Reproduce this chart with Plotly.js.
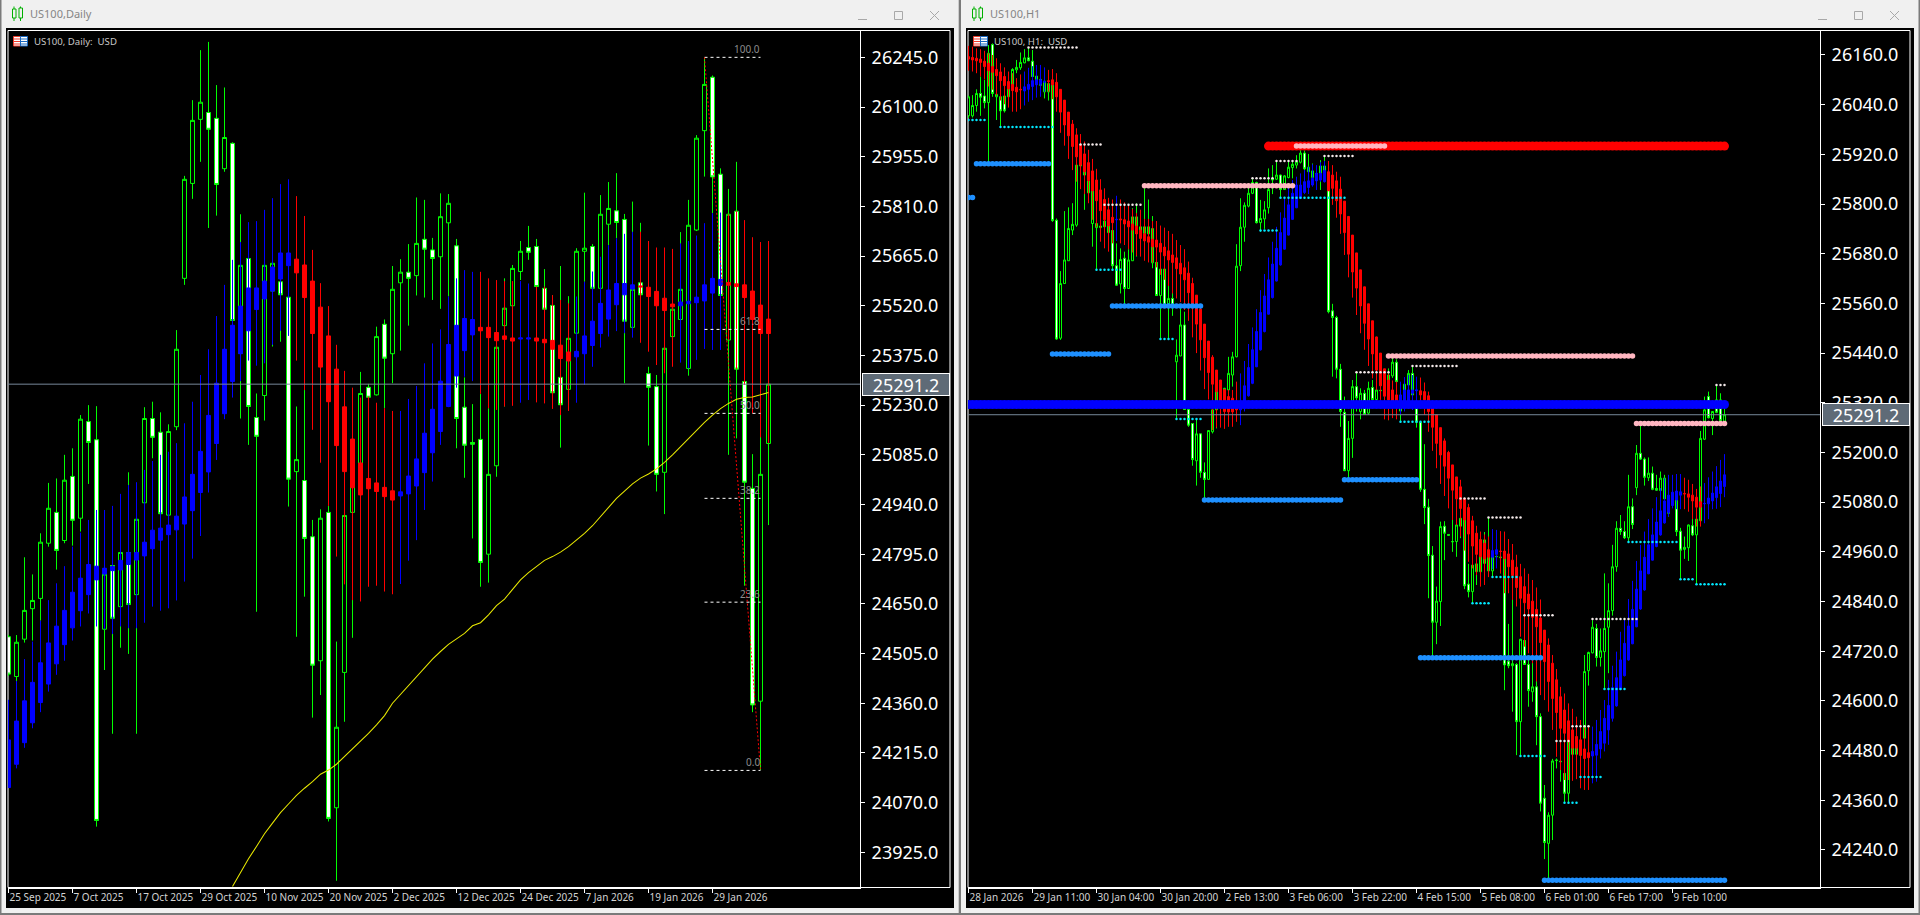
<!DOCTYPE html>
<html><head><meta charset="utf-8">
<style>html,body{margin:0;padding:0;background:#f0f0f0;overflow:hidden}#c{width:1920px;height:915px}</style>
<script src="https://cdn.plot.ly/plotly-3.0.1.min.js"></script></head><body><div id="c"></div>
<script>
const lastPrice = 25291.2;
const dailyTickLabels = ["25 Sep 2025","7 Oct 2025","17 Oct 2025","29 Oct 2025","10 Nov 2025","20 Nov 2025","2 Dec 2025","12 Dec 2025","24 Dec 2025","7 Jan 2026","19 Jan 2026","29 Jan 2026"];
const hourlyTickLabels = ["28 Jan 2026","29 Jan 11:00","30 Jan 04:00","30 Jan 20:00","2 Feb 13:00","3 Feb 06:00","3 Feb 22:00","4 Feb 15:00","5 Feb 08:00","6 Feb 01:00","6 Feb 17:00","9 Feb 10:00"];
const dailyPriceTicks = [26245,26100,25955,25810,25665,25520,25375,25230,25085,24940,24795,24650,24505,24360,24215,24070,23925];
const hourlyPriceTicks = [26160,26040,25920,25800,25680,25560,25440,25320,25200,25080,24960,24840,24720,24600,24480,24360,24240];

// Daily candles: open, high, low, close
const dailyBars = [
[24554,24560,24440,24445],[24438,24559,24425,24538],[24547,24786,24537,24631],[24636,24736,24543,24660],[24666,24856,24601,24830],[24827,25003,24817,24929],[24917,25016,24750,24806],[24835,25085,24827,25011],
[25022,25104,24820,24894],[24900,25201,24861,25189],[25182,25230,25000,25121],[25129,25227,24000,24018],[24576,24754,24457,24737],[24762,24773,24271,24608],[24642,24800,24522,24800],[24800,25034,24504,24648],
[24677,24910,24271,24897],[24945,25224,24943,25191],[25191,25240,25075,25136],[25151,25209,24895,24913],[24909,25174,24900,25153],[25167,25449,25157,25393],[25600,25899,25581,25889],[25877,26120,25832,26061],
[26064,26266,25940,26114],[26084,26290,25747,26035],[26067,26164,25783,25874],[25920,26157,25911,26011],[25994,25997,25476,25477],[25381,25787,25191,25638],[25658,25663,25114,25226],[25194,25264,24627,25139],
[25258,25638,25185,25638],[25563,25644,25401,25644],[25590,25590,25415,25552],[25545,25545,24934,25014],[25036,25226,24554,25071],[25010,25274,24671,24841],[24846,24895,24318,24471],[24484,24926,24384,24900],
[24917,24936,24015,24024],[24055,24540,23842,24290],[24450,24910,24306,24908],[24917,25027,24551,25026],[25060,25327,25060,25264],[25282,25292,25245,25253],[25260,25459,25258,25430],[25466,25480,25221,25367],
[25380,25636,25294,25568],[25587,25656,25389,25618],[25618,25700,25462,25600],[25608,25836,25550,25702],[25714,25829,25544,25685],[25683,25718,25537,25658],[25663,25848,25511,25780],[25762,25846,25547,25819],
[25695,25715,25104,25191],[25224,25311,25018,25113],[25121,25233,24841,25116],[25130,25263,24700,24771],[24795,25221,24712,25028],[25053,25399,25021,25399],[25462,25600,25226,25513],[25520,25639,25520,25629],
[25620,25709,25595,25679],[25690,25753,25654,25676],[25693,25715,25575,25576],[25571,25627,25509,25510],[25521,25551,25266,25266],[25311,25636,25106,25231],[25276,25548,25276,25425],[25440,25688,25439,25679],
[25679,25850,25590,25688],[25693,25700,25570,25571],[25571,25843,25570,25787],[25758,25881,25697,25804],[25797,25907,25717,25763],[25772,25788,25294,25475],[25457,25824,25457,25568],[25587,25762,25552,25552],
[25322,25342,25112,25282],[25284,25318,24978,25028],[25034,25396,24912,25396],[25430,25537,25429,25510],[25480,25735,25480,25568],[25337,25829,25316,25755],[25741,26018,25738,26009],[26031,26245,25897,26166],
[26187,26192,25790,25896],[25904,25921,25549,25550],[25420,25861,25085,25787],[25796,25940,25133,25335],[25299,25299,24703,25005],[24987,25087,24334,24355],[24366,25138,24165,25028],[25118,25291.2,24880,25291.2]];

// Daily overlay candles: open, high, low, close
const dailyOverlay = [
[24114,24370,24114,24253],[24182,24425,24170,24308],[24245,24489,24230,24367],[24303,24540,24287,24421],[24362,24601,24334,24478],[24416,24661,24394,24536],[24475,24710,24443,24585],[24531,24760,24484,24631],
[24580,24817,24543,24684],[24630,24858,24584,24725],[24677,24895,24622,24765],[24720,24924,24584,24760],[24737,24924,24576,24754],[24747,24936,24562,24759],[24749,24971,24584,24777],[24765,24997,24579,24800],
[24778,25005,24579,24800],[24790,25041,24595,24830],[24811,25067,24642,24865],[24836,25085,24630,24871],[24852,25094,24637,24880],[24866,25119,24660,24906],[24883,25177,24715,24962],[24922,25240,24782,25028],
[24975,25318,24848,25095],[25035,25393,24975,25200],[25118,25490,25070,25294],[25205,25581,25189,25393],[25299,25654,25252,25463],[25380,25706,25300,25519],[25447,25764,25360,25572],[25509,25767,25345,25572],
[25540,25800,25352,25592],[25563,25834,25406,25633],[25598,25875,25447,25674],[25637,25889,25432,25674],[25656,25840,25360,25616],[25639,25782,25274,25544],[25592,25683,25158,25439],[25516,25586,25062,25341],
[25432,25519,24936,25240],[25335,25406,24788,25112],[25225,25330,24707,25036],[25131,25281,24661,24989],[25061,25252,24657,24968],[25016,25255,24700,24986],[25003,25237,24703,24978],[24990,25221,24686,24963],
[24980,25213,24678,24953],[24965,25213,24708,24977],[24971,25248,24776,25023],[24994,25286,24836,25073],[25033,25352,24924,25148],[25091,25410,25007,25218],[25153,25451,25114,25300],[25226,25547,25224,25407],
[25315,25600,25281,25463],[25389,25624,25313,25483],[25435,25619,25300,25480],[25457,25619,25263,25447],[25457,25600,25221,25427],[25442,25595,25216,25418],[25432,25592,25226,25422],[25426,25592,25228,25417],
[25423,25592,25237,25426],[25423,25585,25245,25426],[25426,25576,25238,25417],[25422,25576,25235,25412],[25419,25551,25219,25393],[25405,25537,25201,25366],[25385,25527,25213,25359],[25371,25547,25237,25387],
[25380,25590,25289,25432],[25404,25620,25342,25475],[25439,25663,25398,25527],[25481,25697,25430,25566],[25523,25717,25446,25585],[25552,25730,25440,25585],[25569,25736,25427,25581],[25578,25736,25412,25575],
[25574,25709,25386,25547],[25562,25690,25347,25520],[25542,25690,25323,25506],[25525,25686,25342,25517],[25520,25702,25354,25531],[25526,25709,25337,25533],[25529,25725,25362,25545],[25534,25761,25394,25581],
[25557,25790,25391,25600],[25579,25792,25391,25597],[25588,25787,25420,25580],[25584,25796,25335,25576],[25581,25770,25289,25544],[25563,25720,25206,25480],[25522,25706,25136,25439],[25481,25709,25119,25439]];

// Daily moving average, first value at bar 28
const dailyMAStart = 28;
const dailyMA = [23825,23867,23906,23942,23979,24010,24041,24066,24091,24112,24131,24153,24165,24182,24204,24226,24248,24272,24297,24324,24360,24386,24413,24440,24465,24489,24511,24532,24548,24564,24586,24595,24618,24645,24664,24693,24720,24741,24759,24777,24788,24801,24817,24836,24856,24878,24905,24934,24958,24979,25000,25017,25029,25044,25063,25085,25109,25130,25155,25180,25201,25220,25235,25247,25252,25254,25260,25267];

// Fibonacci levels: label, price
const fibLabels = ["100.0","61.8","50.0","38.2","23.6","0.0"];
const fibPrices = [26245,25451,25206,24958,24655,24164];
const fibBars = [87,94];

// Hourly candles: open, high, low, close
const hourlyBars = [
[26013,26062,26008,26059],[26013,26063,26009,26038],[26038,26077,26023,26067],[26067,26108,26013,26058],[26061,26100,26031,26045],[26045,26184,25898,26164],[26185,26188,26059,26067],[26059,26067,26003,26065],
[26059,26059,25985,26025],[26061,26063,26021,26025],[26059,26084,26058,26078],[26077,26128,26063,26125],[26124,26148,26116,26130],[26129,26166,26124,26142],[26141,26174,26140,26153],[26153,26178,26145,26146],
[26145,26172,26107,26108],[26100,26110,26087,26109],[26101,26102,26087,26087],[26071,26100,26055,26097],[26071,26093,26050,26091],[26087,26091,25757,25760],[25761,25765,25472,25474],[25476,25638,25472,25608],
[25608,25783,25607,25665],[25663,25792,25663,25741],[25737,25802,25725,25751],[25749,25894,25745,25894],[25892,25900,25888,25897],[25870,25878,25786,25878],[25827,25858,25827,25856],[25753,25832,25697,25832],
[25743,25754,25641,25753],[25743,25748,25742,25747],[25745,25760,25744,25759],[25731,25748,25730,25747],[25736,25736,25641,25651],[25651,25705,25602,25604],[25607,25693,25584,25666],[25669,25685,25556,25596],
[25596,25691,25596,25665],[25663,25790,25663,25769],[25729,25802,25673,25769],[25729,25786,25721,25745],[25729,25838,25725,25745],[25728,25811,25727,25745],[25658,25771,25645,25741],[25659,25660,25578,25579],
[25579,25643,25474,25643],[25643,25644,25552,25556],[25559,25604,25474,25572],[25572,25600,25530,25556],[25419,25473,25280,25435],[25433,25548,25433,25508],[25508,25540,25304,25304],[25304,25305,25262,25266],
[25270,25271,25168,25183],[25180,25280,25120,25245],[25245,25245,25139,25152],[25152,25176,25089,25135],[25135,25253,25135,25253],[25250,25303,25246,25303],[25303,25347,25258,25347],[25347,25348,25326,25327],
[25327,25356,25320,25355],[25351,25431,25303,25391],[25387,25443,25359,25431],[25431,25703,25430,25650],[25651,25814,25638,25744],[25744,25804,25709,25797],[25795,25846,25792,25826],[25826,25860,25824,25852],
[25852,25854,25753,25755],[25755,25810,25733,25765],[25764,25807,25740,25786],[25791,25886,25777,25835],[25858,25894,25824,25862],[25860,25904,25858,25870],[25870,25871,25814,25835],[25835,25870,25834,25868],
[25864,25904,25862,25889],[25888,25906,25862,25896],[25894,25918,25886,25902],[25901,25930,25898,25923],[25923,25929,25882,25885],[25878,25921,25856,25889],[25864,25898,25862,25880],[25858,25890,25854,25874],
[25874,25906,25834,25892],[25878,25914,25858,25892],[25876,25876,25536,25540],[25542,25559,25383,25526],[25526,25530,25379,25401],[25401,25414,25262,25299],[25297,25335,25155,25156],[25156,25276,25138,25234],
[25234,25375,25187,25359],[25359,25393,25299,25332],[25299,25355,25280,25343],[25343,25351,25291,25292],[25295,25371,25291,25355],[25357,25375,25327,25328],[25328,25356,25326,25351],[25349,25352,25348,25350],
[25345,25372,25340,25356],[25371,25403,25278,25387],[25385,25429,25380,25418],[25418,25425,25368,25371],[25300,25343,25272,25330],[25328,25371,25326,25365],[25363,25399,25326,25391],[25391,25407,25303,25339],
[25307,25350,25260,25273],[25273,25273,25105,25111],[25111,25220,25027,25067],[25068,25088,24848,24951],[24952,24974,24709,24790],[24790,24876,24737,24841],[24840,25033,24781,25021],[25022,25034,24940,25005],
[25002,25003,24999,25000],[24984,25041,24960,24985],[24985,25041,24948,25025],[25022,25041,24993,25041],[25037,25040,24870,24878],[24882,24931,24850,24864],[24864,24928,24836,24928],[24912,24952,24880,24931],
[24912,25008,24912,24989],[24932,25008,24930,24989],[24914,25043,24912,24964],[24914,24950,24898,24948],[24948,24952,24946,24949],[24946,24950,24908,24947],[24944,24946,24626,24687],[24696,24786,24679,24685],
[24685,24848,24574,24690],[24688,24691,24469,24550],[24550,24750,24467,24749],[24746,24762,24688,24688],[24688,24703,24586,24625],[24622,24711,24598,24634],[24634,24701,24493,24562],[24562,24570,24333,24353],
[24365,24397,24218,24258],[24256,24331,24167,24324],[24324,24460,24264,24455],[24456,24461,24437,24457],[24453,24457,24405,24454],[24425,24449,24353,24377],[24377,24502,24354,24502],[24471,24540,24469,24495],
[24471,24497,24469,24495],[24469,24505,24468,24490],[24510,24711,24500,24671],[24673,24719,24637,24717],[24716,24795,24715,24778],[24775,24786,24683,24705],[24705,24775,24683,24721],[24719,24908,24628,24775],
[24778,24884,24667,24818],[24818,24977,24806,24924],[24924,25034,24912,25017],[25017,25049,25001,25009],[25009,25034,24991,24994],[24994,25146,24983,25069],[25069,25089,25015,25026],[25115,25218,25097,25198],
[25198,25266,25182,25184],[25184,25188,25120,25140],[25139,25188,25131,25150],[25150,25166,25109,25111],[25113,25146,25108,25109],[25108,25154,25107,25138],[25138,25146,25087,25088],[25053,25093,25045,25085],
[25077,25092,25074,25089],[25085,25086,24998,25009],[25010,25018,24894,24964],[24966,24997,24943,24971],[24970,25026,24938,25025],[25023,25049,24998,25001],[25001,25039,24882,25039],[25035,25252,25033,25234],
[25232,25335,25230,25303],[25335,25347,25282,25284],[25282,25299,25242,25299],[25327,25363,25295,25297],[25327,25343,25274,25277],[25274,25315,25266,25291.2]];

// Hourly overlay candles: open, high, low, close
const hourlyOverlay = [
[26156,26182,26122,26150],[26154,26180,26120,26148],[26152,26176,26116,26146],[26150,26174,26108,26142],[26145,26170,26101,26132],[26140,26164,26084,26122],[26132,26160,26076,26118],[26125,26152,26063,26110],
[26119,26140,26050,26098],[26108,26130,26041,26086],[26096,26120,26033,26078],[26089,26116,26023,26074],[26082,26104,26023,26071],[26077,26113,26029,26076],[26073,26120,26038,26083],[26077,26129,26047,26089],
[26084,26133,26051,26098],[26088,26136,26057,26100],[26089,26136,26059,26100],[26094,26130,26071,26096],[26098,26124,26071,26096],[26100,26126,26053,26088],[26094,26116,26023,26059],[26077,26077,25972,26022],
[26051,26051,25941,25991],[26022,26022,25909,25965],[25993,26003,25882,25939],[25967,25983,25854,25914],[25943,25969,25836,25894],[25921,25951,25824,25878],[25900,25931,25802,25857],[25880,25909,25762,25832],
[25858,25885,25745,25808],[25834,25860,25709,25784],[25811,25838,25693,25762],[25786,25815,25685,25747],[25768,25811,25705,25755],[25762,25820,25711,25763],[25764,25811,25705,25762],[25762,25804,25701,25752],
[25759,25799,25691,25745],[25752,25788,25683,25737],[25747,25778,25675,25728],[25737,25786,25673,25717],[25728,25764,25663,25711],[25721,25764,25659,25708],[25715,25759,25659,25697],[25713,25759,25647,25696],
[25705,25748,25629,25684],[25696,25743,25617,25675],[25687,25735,25602,25665],[25677,25728,25584,25659],[25670,25713,25572,25644],[25657,25701,25563,25631],[25646,25691,25544,25617],[25633,25661,25518,25586],
[25608,25622,25478,25552],[25580,25580,25440,25510],[25546,25552,25398,25472],[25510,25510,25353,25429],[25469,25469,25328,25393],[25430,25435,25254,25365],[25399,25399,25260,25347],[25375,25375,25260,25323],
[25352,25352,25257,25299],[25335,25351,25262,25298],[25331,25351,25262,25298],[25323,25371,25274,25303],[25303,25391,25266,25323],[25315,25421,25299,25361],[25337,25462,25335,25405],[25367,25502,25365,25448],
[25407,25546,25406,25492],[25448,25592,25446,25538],[25492,25631,25490,25578],[25534,25671,25533,25617],[25574,25709,25572,25655],[25614,25745,25613,25693],[25653,25780,25651,25731],[25691,25812,25690,25766],
[25725,25842,25724,25798],[25763,25858,25762,25826],[25791,25866,25790,25846],[25814,25874,25812,25846],[25828,25882,25824,25854],[25840,25890,25824,25856],[25846,25896,25842,25862],[25856,25894,25834,25874],
[25858,25901,25854,25874],[25854,25904,25852,25881],[25878,25904,25833,25832],[25870,25894,25798,25838],[25856,25878,25767,25808],[25836,25866,25728,25776],[25807,25807,25677,25731],[25770,25770,25623,25679],
[25725,25725,25574,25636],[25682,25682,25532,25597],[25641,25641,25488,25554],[25600,25600,25448,25512],[25559,25559,25409,25474],[25518,25518,25379,25438],[25479,25480,25351,25399],[25440,25440,25327,25361],
[25402,25402,25280,25336],[25375,25390,25278,25327],[25351,25374,25283,25315],[25339,25371,25280,25311],[25307,25371,25291,25339],[25311,25382,25299,25351],[25315,25387,25311,25351],[25343,25387,25303,25351],
[25349,25383,25307,25351],[25349,25381,25307,25339],[25347,25369,25291,25327],[25337,25347,25250,25299],[25307,25307,25204,25261],[25291,25291,25162,25222],[25260,25260,25124,25194],[25228,25234,25095,25167],
[25200,25204,25065,25138],[25170,25170,25037,25109],[25141,25141,25025,25088],[25117,25134,24997,25065],[25089,25089,24963,25037],[25067,25076,24936,25003],[25035,25047,24920,24974],[25005,25023,24904,24954],
[24989,25009,24876,24948],[24981,25002,24880,24943],[24965,24997,24899,24947],[24947,25015,24918,24963],[24954,25013,24920,24965],[24962,25010,24908,24961],[24962,25009,24860,24944],[24955,24991,24860,24924],
[24940,24979,24844,24903],[24923,24953,24828,24874],[24900,24931,24755,24848],[24876,24920,24731,24837],[24858,24907,24715,24822],[24841,24892,24691,24802],[24821,24874,24647,24779],[24800,24845,24614,24741],
[24771,24771,24602,24695],[24735,24751,24574,24647],[24691,24711,24530,24606],[24651,24677,24465,24572],[24610,24634,24433,24534],[24578,24618,24409,24522],[24552,24594,24409,24502],[24530,24581,24407,24486],
[24514,24562,24411,24486],[24506,24554,24389,24469],[24484,24542,24385,24461],[24475,24542,24385,24463],[24467,24538,24401,24478],[24469,24554,24405,24495],[24484,24578,24461,24526],[24498,24602,24478,24558],
[24530,24651,24494,24589],[24558,24685,24550,24632],[24588,24719,24586,24656],[24628,24767,24626,24699],[24661,24800,24659,24739],[24699,24846,24697,24781],[24738,24890,24737,24821],[24779,24938,24778,24870],
[24822,24977,24820,24914],[24868,25009,24866,24947],[24907,25039,24906,24977],[24940,25065,24939,25001],[24973,25092,24971,25032],[25001,25114,24999,25059],[25030,25138,25028,25083],[25055,25146,25045,25097],
[25072,25146,25065,25104],[25085,25148,25063,25107],[25097,25148,25063,25105],[25101,25139,25063,25100],[25100,25134,25057,25092],[25097,25124,25039,25083],[25092,25112,25021,25068],[25081,25118,25021,25068],
[25076,25126,25029,25077],[25076,25140,25039,25090],[25083,25154,25063,25102],[25091,25167,25064,25117],[25101,25182,25068,25131],[25118,25196,25092,25146]];

// Hourly horizontal levels: first bar, last bar, price
const redLevels = [[75,189,25940]];
const blueLevels = [[0,189,25316]];
const pinkLevels = [[82,104,25940],[44,81,25844],[105,166,25433],[167,189,25270]];
const azureLevels = [[0,1,25816],[2,20,25897],[21,35,25438],[36,58,25554],[59,93,25085],[94,112,25134],[113,143,24704],[144,189,24167]];
const whiteDots = [[15,27,26178],[28,33,25944],[34,43,25798],[71,76,25862],[77,82,25904],[89,96,25916],[97,105,25394],[111,122,25409],[123,129,25089],[130,138,25043],[139,146,24807],[147,150,24503],[151,155,24539],[156,167,24798],[187,189,25363]];
const cyanDots = [[0,4,26003],[8,21,25986],[32,38,25641],[48,51,25474],[52,58,25281],[73,77,25736],[78,94,25815],[108,115,25274],[126,130,24836],[131,137,24899],[138,144,24467],[149,152,24354],[153,158,24416],[159,164,24629],[165,177,24984],[178,181,24894],[182,189,24882]];

// ---------- helpers ----------
const PX = x => x / 1920, PY = y => 1 - y / 915;
const col = (rows, i) => rows.map(r => r[i]);
const idx = rows => rows.map((_, i) => i);
const FONT = '"Noto Sans", "Open Sans", sans-serif';

function candles(rows, xa, ya, upFill, upLine, downFill, downLine) {
  return {type:'candlestick', x:idx(rows), open:col(rows,0), high:col(rows,1), low:col(rows,2), close:col(rows,3), xaxis:xa, yaxis:ya,
    increasing:{fillcolor:upFill, line:{color:upLine, width:1}}, decreasing:{fillcolor:downFill, line:{color:downLine, width:1}},
    hoverinfo:'skip', showlegend:false};
}
function levelDots(levels, size, color, xa, ya) {
  const x = [], y = [];
  levels.forEach(l => { for (let k = l[0]; k <= l[1]; k++) { x.push(k); y.push(l[2]); } });
  return {type:'scatter', mode:'markers', x, y, xaxis:xa, yaxis:ya, marker:{size, color, line:{width:0}}, hoverinfo:'skip', showlegend:false};
}
function hline(x0, x1, y, xa, ya, color, dash, width) {
  return {type:'scatter', mode:'lines', x:[x0,x1], y:[y,y], xaxis:xa, yaxis:ya, line:{color, width:width||1, dash:dash||'solid'}, hoverinfo:'skip', showlegend:false};
}

const D_RANGE = [-0.0625, 106.4375], H_RANGE = [-0.125, 212.875];
const traces = [
  candles(dailyBars,'x','y','#000000','#00ff00','#ffffff','#00ff00'),
  candles(dailyOverlay,'x','y','#0000ff','#0000ff','#ff0000','#ff0000'),
  hline(D_RANGE[0],D_RANGE[1],lastPrice,'x','y','#778899'),
  {type:'scatter',mode:'lines',x:dailyMA.map((_,i)=>i+dailyMAStart),y:dailyMA,xaxis:'x',yaxis:'y',line:{color:'#e8e800',width:1.05},hoverinfo:'skip',showlegend:false},
  ...fibPrices.map(p=>hline(fibBars[0],fibBars[1],p,'x','y','#ffffff','3px,3px')),
  {type:'scatter',mode:'lines',x:fibBars,y:[fibPrices[0],fibPrices[5]],xaxis:'x',yaxis:'y',line:{color:'#ff0000',width:1,dash:'2px,2px'},hoverinfo:'skip',showlegend:false},

  candles(hourlyBars,'x2','y2','#000000','#00ff00','#ffffff','#00ff00'),
  candles(hourlyOverlay,'x2','y2','#0000ff','#0000ff','#ff0000','#ff0000'),
  hline(H_RANGE[0],H_RANGE[1],lastPrice,'x2','y2','#778899'),
  levelDots(redLevels,9,'#ff0000','x2','y2'),
  levelDots(blueLevels,9,'#0000ff','x2','y2'),
  levelDots(pinkLevels,5.5,'#ffb6c1','x2','y2'),
  levelDots(azureLevels,5.5,'#1e90ff','x2','y2'),
  levelDots(whiteDots,2.5,'#f4eaea','x2','y2'),
  levelDots(cyanDots,2.5,'#00e8ff','x2','y2')
];

function xAxis(d0, d1, range, labels, step, anchor) {
  return {domain:[PX(d0),PX(d1)], range, anchor, tickmode:'array', tickvals:labels.map((_,i)=>i*step), ticktext:labels, tickangle:0,
    ticks:'outside', ticklen:4, tickwidth:1, tickcolor:'#ffffff', ticklabelposition:'outside right',
    tickfont:{family:FONT,size:10,color:'#d4d4d4'}, showgrid:false, zeroline:false, showline:true, linecolor:'#ffffff', linewidth:1,
    rangeslider:{visible:false}, fixedrange:true};
}
function yAxis(range, ticks, anchor) {
  return {domain:[PY(887.5),PY(30.5)], range, anchor, side:'right', tickmode:'array', tickvals:ticks, tickformat:'.1f',
    ticks:'outside', ticklen:4, tickwidth:1, tickcolor:'#ffffff', ticklabelstandoff:3,
    tickfont:{family:FONT,size:18,color:'#ffffff'}, showgrid:false, zeroline:false, showline:true, linecolor:'#ffffff', linewidth:1, fixedrange:true};
}

const shapes = [], annotations = [];
const rect = (x0,y0,x1,y1,fill,line,layer) => shapes.push({type:'rect',xref:'paper',yref:'paper',x0:PX(x0),x1:PX(x1),y0:PY(y0),y1:PY(y1),
  fillcolor:fill||'rgba(0,0,0,0)',line:{color:line||'rgba(0,0,0,0)',width:line?1:0},layer:layer||'below'});
const seg = (x0,y0,x1,y1,color,layer) => shapes.push({type:'line',xref:'paper',yref:'paper',x0:PX(x0),x1:PX(x1),y0:PY(y0),y1:PY(y1),line:{color,width:1},layer:layer||'above'});

[[0,'US100,Daily','US100, Daily:\u00a0\u00a0USD'],[960,'US100,H1','US100, H1:\u00a0\u00a0USD']].forEach(([o,title,label])=>{
  rect(o+6,28,o+954,908,'#000000');
  rect(o+8,30.5,o+950,887.5,null,'#ffffff');
  // window icon
  seg(o+14,6.5,o+14,21,'#00b000'); seg(o+20.5,6.5,o+20.5,21,'#00b000');
  rect(o+12.5,9,o+16,18,'#f0f0f0','#00b000','above'); rect(o+19,8,o+22.5,18,'#f0f0f0','#00b000','above');
  // window buttons
  seg(o+858,19.5,o+867,19.5,'#a8a8a8');
  rect(o+894.5,11.5,o+902.5,19.5,null,'#a8a8a8','above');
  seg(o+930,11,o+939,20,'#a8a8a8'); seg(o+939,11,o+930,20,'#a8a8a8');
  // flag icon
  rect(o+13.5,36.5,o+20.5,46,'#ffffff','#ef3b2c','above');
  rect(o+20.5,36.5,o+27.5,46,'#ffffff','#1666c0','above');
  [39,41.5,44].forEach(y=>{seg(o+14,y,o+20,y,'#ef3b2c');seg(o+21,y,o+27,y,'#1666c0');});
  annotations.push({xref:'paper',yref:'paper',x:PX(o+28),y:PY(14),xanchor:'left',yanchor:'middle',showarrow:false,text:title,font:{family:FONT,size:11,color:'#858585'}});
  annotations.push({xref:'paper',yref:'paper',x:PX(o+32),y:PY(41.5),xanchor:'left',yanchor:'middle',showarrow:false,text:label,font:{family:FONT,size:9.6,color:'#c8c8c8'}});
  annotations.push({xref:'paper',yref:o?'y2':'y',x:PX(o+861.5),y:lastPrice,xanchor:'left',yanchor:'middle',showarrow:false,text:lastPrice.toFixed(1),
    font:{family:FONT,size:18,color:'#ffffff'},bgcolor:'#5f6b77',bordercolor:'#ffffff',borderwidth:1,borderpad:0,width:86,height:21,align:'center'});
});
rect(0,0,1.5,915,'#7a7a7a'); rect(958.7,0,961,915,'#7a7a7a'); rect(1918.5,0,1920,915,'#7a7a7a'); rect(0,913,1920,915,'#7a7a7a');

fibLabels.forEach((t,i)=>annotations.push({xref:'x',yref:'y',x:fibBars[1],y:fibPrices[i],xanchor:'right',yanchor:'bottom',showarrow:false,text:t,borderpad:0,
  font:{family:FONT,size:10,color:'#8c8c8c'}}));

const layout = {width:1920,height:915,margin:{l:0,r:0,t:0,b:0,pad:0},paper_bgcolor:'#f0f0f0',plot_bgcolor:'rgba(0,0,0,0)',showlegend:false,
  boxgap:0.5,boxgroupgap:0,boxmode:'overlay',dragmode:false,hovermode:false,
  xaxis:xAxis(8,860,D_RANGE,dailyTickLabels,8,'y'),
  yaxis:yAxis([23822.3,26323.3],dailyPriceTicks,'x'),
  xaxis2:xAxis(968,1820,H_RANGE,hourlyTickLabels,16,'y2'),
  yaxis2:yAxis([24149.4,26219.1],hourlyPriceTicks,'x2'),
  shapes,annotations};
Plotly.newPlot('c',traces,layout,{staticPlot:true,displayModeBar:false});
</script></body></html>
